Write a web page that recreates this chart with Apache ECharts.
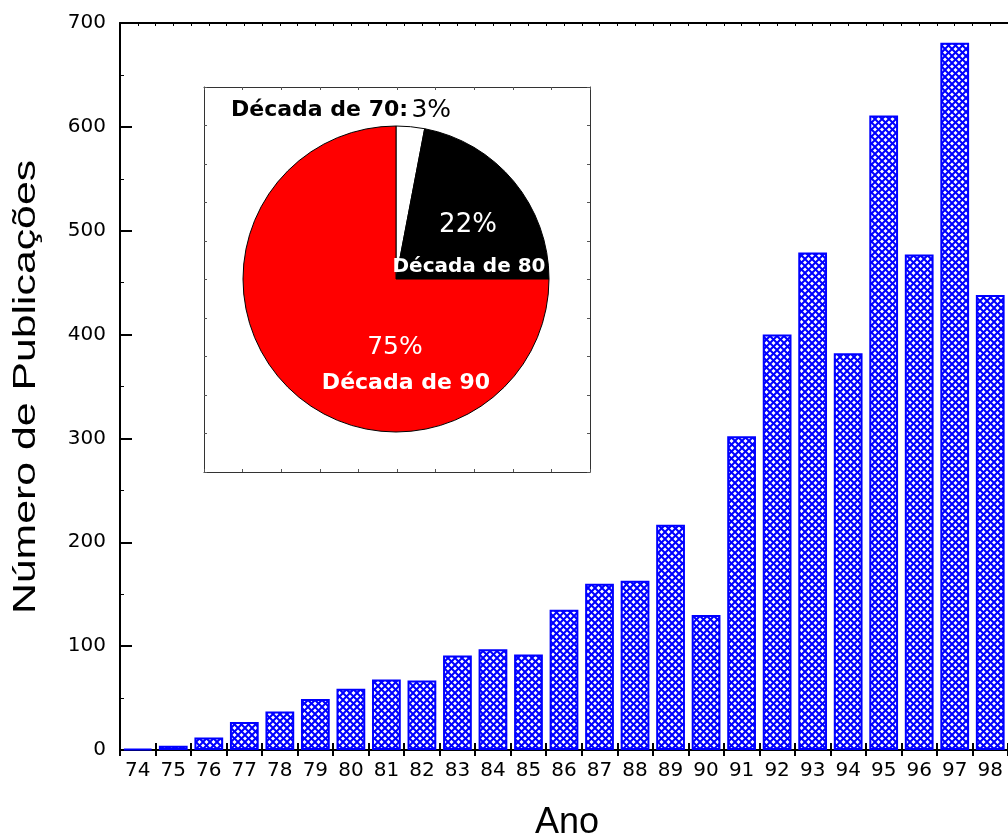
<!DOCTYPE html>
<html>
<head>
<meta charset="utf-8">
<script src="https://cdn.jsdelivr.net/npm/echarts@6/dist/echarts.min.js"></script>
<style>
html,body{margin:0;padding:0;background:#fff;}
#chart{width:1008px;height:838px;}
</style>
</head>
<body>
<div id="chart"></div>
<script>
// ---- data ----
const years = ['74','75','76','77','78','79','80','81','82','83','84','85','86','87','88','89','90','91','92','93','94','95','96','97','98'];
const publications = [1,4,12,27,37,49,59,68,67,91,97,92,135,160,163,217,130,302,400,479,382,611,477,681,438];
const decadeNames = ['Década de 70','Década de 80','Década de 90'];
const decadeShares = [3,22,75];
const decadeColors = ['#ffffff','#000000','#ff0000'];
const yTitle = 'Número de Publicações';
const xTitle = 'Ano';

function hatchCanvas() {
  const s = 7;
  const c = document.createElement('canvas');
  c.width = s; c.height = s;
  const g = c.getContext('2d');
  g.fillStyle = '#ffffff';
  g.fillRect(0, 0, s, s);
  g.strokeStyle = '#0000ff';
  g.lineWidth = 2;
  for (const o of [-s, 0, s]) {
    g.beginPath(); g.moveTo(o, 0); g.lineTo(o + s, s); g.stroke();
    g.beginPath(); g.moveTo(o + s, 0); g.lineTo(o, s); g.stroke();
  }
  return c;
}

const chart = echarts.init(document.getElementById('chart'), null, {renderer: 'canvas'});
const lblFont = 'DejaVu Sans';
const noAxisDeco = {axisLabel: {show: false}, splitLine: {show: false}};
const frameLine = {show: true, onZero: false, lineStyle: {color: '#333', width: 1}};
const frameTick = {show: true, inside: true, length: 3, lineStyle: {color: '#555', width: 1}};

const option = {
  animation: false,
  backgroundColor: '#ffffff',
  grid: [
    {left: 120, top: 23, right: -4, bottom: 88, containLabel: false},
    {left: 204, top: 87, width: 386, height: 385, containLabel: false}
  ],
  xAxis: [
    {
      type: 'category', gridIndex: 0, position: 'bottom', data: years,
      axisLine: {show: true, onZero: false, lineStyle: {color: '#000', width: 2}},
      axisTick: {show: true, inside: true, length: 7, lineStyle: {color: '#000', width: 2}},
      axisLabel: {interval: 0, margin: 11, color: '#000', fontSize: 20, fontFamily: lblFont},
      splitLine: {show: false}
    },
    {
      type: 'category', gridIndex: 0, position: 'bottom', data: years,
      axisLine: {show: false, onZero: false},
      axisTick: {show: true, inside: false, length: 6, lineStyle: {color: '#000', width: 2}},
      axisLabel: {show: false}, splitLine: {show: false}
    },
    {
      type: 'value', gridIndex: 0, position: 'top', min: 0, max: years.length, interval: 0.5,
      axisLine: {show: true, onZero: false, lineStyle: {color: '#000', width: 2}},
      axisTick: {show: true, inside: true, length: 3, lineStyle: {color: '#000', width: 1}},
      ...noAxisDeco
    },
    {type: 'value', gridIndex: 1, position: 'bottom', min: 0, max: 10, interval: 1, axisLine: frameLine, axisTick: frameTick, ...noAxisDeco},
    {type: 'value', gridIndex: 1, position: 'top', min: 0, max: 10, interval: 1, axisLine: frameLine, axisTick: frameTick, ...noAxisDeco}
  ],
  yAxis: [
    {
      type: 'value', gridIndex: 0, position: 'left', min: 0, max: 700, interval: 100,
      axisLine: {show: true, onZero: false, lineStyle: {color: '#000', width: 2}},
      axisTick: {show: true, inside: true, length: 12, lineStyle: {color: '#000', width: 2}},
      minorTick: {show: true, splitNumber: 2, length: 4, lineStyle: {color: '#000', width: 1}},
      axisLabel: {margin: 14, color: '#000', fontSize: 20, fontFamily: lblFont},
      splitLine: {show: false}
    },
    {type: 'value', gridIndex: 1, position: 'left', min: 0, max: 10, interval: 1, axisLine: frameLine, axisTick: frameTick, ...noAxisDeco},
    {type: 'value', gridIndex: 1, position: 'right', min: 0, max: 10, interval: 1, axisLine: frameLine, axisTick: frameTick, ...noAxisDeco}
  ],
  series: [
    {
      type: 'bar', xAxisIndex: 0, yAxisIndex: 0, data: publications,
      barCategoryGap: '19%', silent: true,
      itemStyle: {
        color: {image: hatchCanvas(), repeat: 'repeat'},
        borderColor: '#0000ff', borderWidth: 2
      }
    },
    {
      type: 'pie', center: [396, 279], radius: 153, startAngle: 90, clockwise: true,
      silent: true, label: {show: false}, labelLine: {show: false},
      itemStyle: {borderColor: '#000', borderWidth: 1},
      data: decadeNames.map((n, i) => ({name: n, value: decadeShares[i], itemStyle: {color: decadeColors[i]}}))
    }
  ],
  graphic: [
    {
      type: 'text', z: 100, x: 26, y: 387, rotation: Math.PI / 2, scaleX: 1.38, scaleY: 1,
      style: {text: yTitle, font: '31px "Liberation Sans"', fill: '#000', align: 'center', verticalAlign: 'middle'}
    },
    {
      type: 'text', z: 100, x: 567, y: 823,
      style: {text: xTitle, font: '36px "Liberation Sans"', fill: '#000', align: 'center', verticalAlign: 'middle'}
    },
    {
      type: 'text', z: 100, x: 231, y: 110,
      style: {
        text: '{b|' + decadeNames[0] + ':} {n|' + decadeShares[0] + '%}',
        align: 'left', verticalAlign: 'middle',
        rich: {
          b: {fontFamily: lblFont, fontWeight: 'bold', fontSize: 22, fill: '#000', color: '#000'},
          n: {fontFamily: lblFont, fontSize: 25, fill: '#000', color: '#000'}
        }
      }
    },
    {
      type: 'text', z: 100, x: 468, y: 225,
      style: {text: decadeShares[1] + '%', font: '26px "DejaVu Sans"', fill: '#fff', align: 'center', verticalAlign: 'middle'}
    },
    {
      type: 'text', z: 100, x: 469, y: 267,
      style: {text: decadeNames[1], font: 'bold 20px "DejaVu Sans"', fill: '#fff', align: 'center', verticalAlign: 'middle'}
    },
    {
      type: 'text', z: 100, x: 395, y: 347,
      style: {text: decadeShares[2] + '%', font: '25px "DejaVu Sans"', fill: '#fff', align: 'center', verticalAlign: 'middle'}
    },
    {
      type: 'text', z: 100, x: 406, y: 383,
      style: {text: decadeNames[2], font: 'bold 22px "DejaVu Sans"', fill: '#fff', align: 'center', verticalAlign: 'middle'}
    }
  ]
};
chart.setOption(option);
</script>
</body>
</html>
